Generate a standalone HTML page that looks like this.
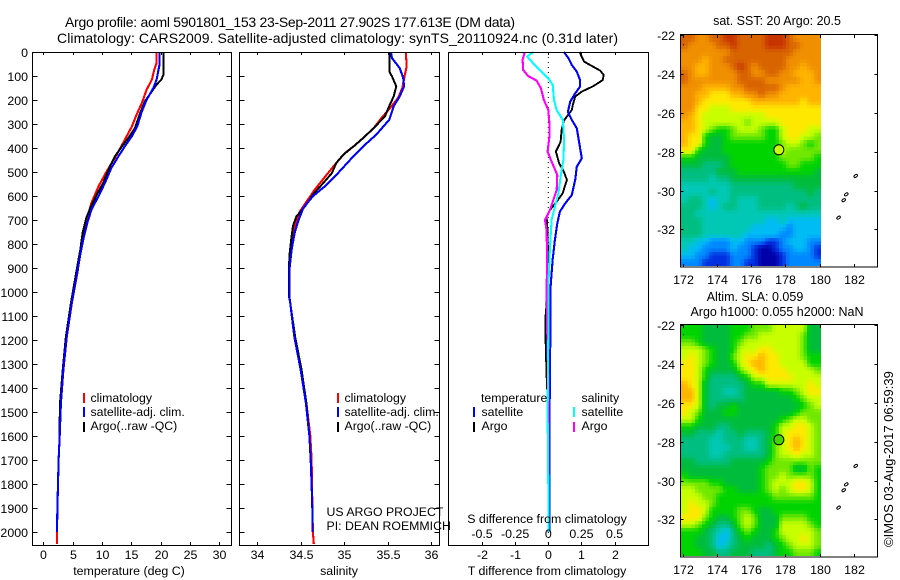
<!DOCTYPE html>
<html lang="en">
<head>
<meta charset="utf-8">
<title>Argo profile 5901801_153</title>
<style>
html,body{margin:0;padding:0;background:#fff;}
svg{display:block;}
text{font-family:"Liberation Sans",sans-serif;fill:#000;}
.t{font-size:14px;}
.m{font-size:12.4px;}
.s{font-size:12.3px;}
.n{font-size:12.5px;}
</style>
</head>
<body>
<svg id="chart" xmlns="http://www.w3.org/2000/svg" width="900" height="580" viewBox="0 0 900 580">
<rect x="0" y="0" width="900" height="580" fill="#fff"/>
<text class="t" x="65" y="27" textLength="450">Argo profile: aoml 5901801_153 23-Sep-2011 27.902S 177.613E (DM data)</text>
<text class="t" x="57" y="43" textLength="561">Climatology: CARS2009. Satellite-adjusted climatology: synTS_20110924.nc (0.31d later)</text>
<g id="maps"></g>
<g id="profiles"></g>
<g id="axes"></g>
<text class="m" x="129" y="575" text-anchor="middle">temperature (deg C)</text>
<text class="m" x="339" y="575" text-anchor="middle">salinity</text>
<text class="m" x="547" y="575" text-anchor="middle">T difference from climatology</text>
<text class="m" x="547" y="523" text-anchor="middle">S difference from climatology</text>
<rect x="83" y="393" width="2" height="10" fill="#f00"/>
<rect x="83" y="407" width="2" height="10" fill="#00f"/>
<rect x="83" y="422" width="2" height="10" fill="#000"/>
<text class="s" x="90.500" y="402">climatology</text>
<text class="s" x="90.500" y="416">satellite-adj. clim.</text>
<text class="s" x="90.500" y="430">Argo(..raw -QC)</text>
<rect x="337" y="393" width="2" height="10" fill="#f00"/>
<rect x="337" y="407" width="2" height="10" fill="#00f"/>
<rect x="337" y="422" width="2" height="10" fill="#000"/>
<text class="s" x="344.500" y="402">climatology</text>
<text class="s" x="344.500" y="416">satellite-adj. clim.</text>
<text class="s" x="344.500" y="430">Argo(..raw -QC)</text>
<text class="s" x="326.500" y="516">US ARGO PROJECT</text>
<text class="s" x="326.500" y="530">PI: DEAN ROEMMICH</text>
<text class="s" x="481" y="402">temperature</text>
<rect x="473" y="407" width="2" height="10" fill="#00f"/>
<rect x="473" y="422" width="2" height="10" fill="#000"/>
<text class="s" x="481.500" y="416">satellite</text>
<text class="s" x="481.500" y="430">Argo</text>
<text class="s" x="581.500" y="402">salinity</text>
<rect x="573" y="407" width="2" height="10" fill="#0ff"/>
<rect x="573" y="422" width="2" height="10" fill="#f0f"/>
<text class="s" x="581.500" y="416">satellite</text>
<text class="s" x="581.500" y="430">Argo</text>
<text class="n" x="777" y="25" text-anchor="middle">sat. SST: 20 Argo: 20.5</text>
<text class="n" x="755" y="301" text-anchor="middle">Altim. SLA: 0.059</text>
<text class="n" x="777" y="316" text-anchor="middle">Argo h1000: 0.055 h2000: NaN</text>
<text class="n" style="font-size:13px" transform="translate(893,547) rotate(-90)">©IMOS 03-Aug-2017 06:59:39</text>
</svg>
<script>
// ---------- profile data ----------
const tempClimDepth = [0,46,74,115,157,212,261,310,365,428,497,560,629,699,803,858,908,1047,1186,1325,1463,1600,1700,1800,1900,2000,2050];
const tempClimVal = [19.3,19.3,18.9,18.5,17.6,16.8,15.9,15.1,13.9,12.5,10.8,9.4,8.2,7.4,6.5,6.1,5.9,4.85,4,3.43,3,2.8,2.6,2.5,2.4,2.33,2.3];
const tempArgoDepth = [0,94,115,136,164,205,254,317,358,393,435,490,546,594,650,692,754,824,893,962,1047,1186,1325,1463,1600];
const tempArgoVal = [20.5,20.5,20.1,19.3,18.5,17.3,16.5,15.6,14.5,13.4,12.2,11.1,10.2,9.1,8,7.3,6.7,6.3,5.8,5.3,4.7,3.85,3.3,2.85,2.75];
const tempSatDepth = [0,53,115,150,199,247,310,351,393,435,483,546,601,657,712,782,851,908,1047,1186,1325,1463,1600,1700,1800,1900,2000];
const tempSatVal = [19.8,19.8,19.3,18.75,17.6,16.8,16,15.1,13.9,12.8,11.6,10.5,9.4,8.2,7.5,6.8,6.25,5.86,4.83,3.98,3.41,3,2.8,2.6,2.5,2.4,2.33];

const salClimDepth = [0,60,94,150,192,233,275,317,358,393,421,462,511,574,622,664,699,754,824,908,1019,1047,1186,1325,1463,1600,1700,1800,1900,2000,2050];
const salClimVal = [35.71,35.72,35.7,35.67,35.62,35.53,35.43,35.34,35.22,35.11,35.01,34.91,34.8,34.66,34.57,34.49,34.45,34.41,34.38,34.37,34.37,34.38,34.43,34.505,34.565,34.61,34.625,34.63,34.635,34.64,34.65];
const salArgoDepth = [0,81,101,143,185,233,268,317,358,393,428,462,504,546,594,643,685,726,782,850,908,1019,1047,1186,1325,1463,1600];
const salArgoVal = [35.52,35.52,35.55,35.6,35.57,35.51,35.47,35.34,35.22,35.11,34.99,34.91,34.86,34.76,34.64,34.55,34.45,34.41,34.39,34.37,34.365,34.365,34.38,34.435,34.51,34.565,34.6];
const salSatDepth = [0,25,67,108,143,185,226,282,344,393,449,504,553,601,650,706,754,824,908,1019,1047,1186,1325,1463,1600,1700,1800,1900,2000];
const salSatVal = [35.54,35.55,35.64,35.68,35.69,35.64,35.57,35.52,35.37,35.22,35.07,34.93,34.8,34.64,34.53,34.47,34.43,34.395,34.37,34.37,34.38,34.426,34.5,34.56,34.6,34.615,34.625,34.633,34.637];

const diffArgoTDepth = [0,40,58,78,96,117,142,165,186,221,242,286,325,374,415,464,499,533,589,624,658,686,728,880,964,1050,1100,1200,1350,1500,2000];
const diffArgoTVal = [0.94,1.08,1.31,1.57,1.67,1.64,1.36,1.01,0.81,0.74,0.71,0.47,0.4,0.37,0.23,0.33,0.47,0.56,0.43,0.25,0.05,-0.05,-0.03,0,-0.03,-0.05,-0.08,-0.08,-0.05,0,0];
const diffSatTDepth = [0,26,54,82,117,144,172,207,249,283,318,360,401,443,478,533,596,631,665,714,783,867,978,1100,1300,1500,1700,2000];
const diffSatTVal = [0.47,0.61,0.71,0.86,0.96,0.96,0.81,0.66,0.59,0.71,0.86,0.91,0.96,1.01,0.86,0.81,0.71,0.51,0.35,0.27,0.2,0.13,0.07,0.07,0.05,0.04,0.03,0.03];
const diffArgoSDepth = [0,33,75,100,119,151,200,242,297,353,415,457,512,575,624,658,700,742,880,978,1100,1250,1400,1500,2000];
const diffArgoSVal = [-0.177,-0.194,-0.189,-0.152,-0.088,-0.056,-0.033,0,0.008,0.008,-0.005,0.025,0.068,0.063,0.033,0.013,-0.025,-0.013,-0.008,-0.013,-0.01,-0.005,0.002,0.003,0];
const diffSatSDepth = [0,19,47,75,110,137,200,242,283,367,450,519,589,644,700,811,978,1200,1500,1800,2000];
const diffSatSVal = [-0.114,-0.159,-0.114,-0.063,0,0.033,0.043,0.063,0.109,0.119,0.114,0.093,0.076,0.05,0.025,0.013,0,0,-0.005,0,0];

// ---------- tick labels ----------
const depthTicks = [0,100,200,300,400,500,600,700,800,900,1000,1100,1200,1300,1400,1500,1600,1700,1800,1900,2000];
const tempTicks = [0,5,10,15,20,25,30];
const salTicks = [34,34.5,35,35.5,36];
const diffTTicks = [-2,-1,0,1,2];
const diffSTicks = [-0.5,-0.25,0,0.25,0.5];
const lonTicks = [172,174,176,178,180,182];
const latTicks = [-22,-24,-26,-28,-30,-32];

// ---------- map data (colour levels, 0 = deep blue ... 14 = red-brown) ----------
const sstGrid = [
[13,13,12,12,13,13,14,14,13,13,13,13,14,14,14,13,12,12,12,12],
[13,12,12,12,12,13,13,14,13,13,13,13,14,14,14,13,13,12,12,12],
[12,12,12,12,12,12,12,13,13,13,13,13,13,13,13,13,12,12,12,12],
[12,12,12,11,12,12,13,13,13,13,13,13,13,13,13,12,12,12,12,12],
[12,12,11,11,12,12,12,13,14,13,12,13,13,13,13,12,12,11,12,12],
[13,12,11,11,12,12,12,12,13,13,12,12,13,13,12,12,11,11,11,12],
[13,12,12,12,12,12,12,12,13,13,13,13,12,12,12,12,12,11,11,12],
[12,12,12,11,11,11,11,12,12,13,13,13,13,13,12,11,11,11,11,11],
[12,12,11,11,10,10,10,11,11,12,12,13,12,12,11,11,11,11,11,11],
[12,12,11,10,10,10,10,10,10,10,11,11,11,11,11,11,11,10,11,11],
[12,12,10,10,9,9,9,10,10,10,10,10,10,10,10,10,10,10,10,10],
[12,11,10,9,9,9,9,9,9,9,9,9,10,10,10,10,10,10,10,10],
[11,11,10,9,9,9,9,9,9,8,9,9,9,9,10,10,10,10,10,10],
[11,11,10,9,8,7,7,8,9,9,9,8,7,7,9,10,10,10,9,9],
[11,10,10,7,6,6,7,8,8,8,8,8,7,7,9,10,10,9,9,8],
[11,10,10,7,6,6,7,7,7,7,7,7,7,7,8,9,9,8,7,8],
[10,10,7,6,6,6,7,7,7,7,7,7,7,7,9,8,8,8,8,8],
[7,7,6,6,6,6,6,7,7,7,7,7,7,7,8,8,8,8,8,7],
[6,6,6,5,5,5,6,7,7,7,7,7,7,7,7,8,8,7,7,7],
[5,5,5,5,5,6,6,6,7,7,7,7,7,7,7,7,7,7,7,6],
[5,5,5,5,4,5,5,6,6,6,6,6,6,6,6,6,6,6,6,6],
[4,4,4,4,4,4,4,5,5,5,5,5,5,5,5,5,6,6,6,6],
[4,4,4,4,5,4,4,5,5,5,5,5,5,5,5,5,5,5,6,5],
[4,5,5,4,3,4,4,5,4,4,4,5,5,5,5,5,5,5,5,5],
[5,5,5,4,3,4,5,5,4,4,4,5,5,5,5,4,5,6,5,5],
[5,5,4,4,4,4,4,4,4,4,4,4,4,4,4,4,4,4,4,4],
[5,5,5,4,4,4,4,4,4,4,4,4,3,3,4,3,3,3,3,3],
[5,5,5,4,4,4,4,4,4,4,3,3,3,3,3,2,3,3,3,3],
[5,5,5,4,4,4,4,4,4,3,3,3,3,3,2,2,3,3,3,3],
[4,4,3,3,2,2,2,3,3,2,2,2,1,1,2,3,3,3,2,2],
[4,3,3,2,2,2,2,3,2,2,1,0,0,1,2,2,3,3,2,1],
[3,3,2,2,1,1,1,2,2,2,1,0,0,0,1,2,2,2,2,1],
[2,2,2,1,1,1,1,2,2,1,1,0,0,0,1,2,2,2,2,2]
];
const slaGrid = [
[7,7,7,6,6,6,6,7,7,7,8,8,8,9,9,9,9,9,6,6],
[7,7,7,6,6,6,6,7,7,8,8,9,9,9,9,9,9,8,6,6],
[8,8,7,6,6,6,6,7,8,9,9,9,9,9,9,9,9,8,6,6],
[9,9,9,8,7,6,6,7,9,9,9,10,10,9,9,9,9,8,6,6],
[9,10,9,8,7,6,6,8,9,10,10,11,10,10,9,9,9,8,7,7],
[10,10,9,8,7,6,6,7,9,10,11,11,10,10,9,9,9,9,7,7],
[10,10,9,7,6,6,6,6,8,9,10,11,10,10,10,9,9,9,9,8],
[10,10,9,7,5,5,5,5,6,7,9,9,10,10,10,10,9,9,9,9],
[11,10,9,6,5,5,5,5,5,6,7,7,9,9,9,9,9,9,10,9],
[11,11,9,6,5,5,4,4,5,6,6,6,6,6,7,7,8,9,10,10],
[11,11,9,6,5,5,5,5,5,6,6,6,6,6,6,6,7,8,9,9],
[10,10,9,6,5,6,6,7,6,6,6,6,6,6,6,6,6,7,8,9],
[10,9,8,6,6,6,7,7,6,6,6,6,6,6,6,6,7,8,8,8],
[9,9,7,6,6,6,6,6,6,6,6,6,6,6,7,8,9,9,8,8],
[7,7,6,6,6,5,5,6,6,6,6,6,6,7,9,9,10,10,9,8],
[6,6,5,5,5,4,5,5,6,5,5,5,6,7,9,10,10,10,9,8],
[5,5,5,5,4,4,5,5,5,4,4,5,6,8,9,10,11,10,9,8],
[5,5,5,5,4,4,4,5,5,4,4,5,6,8,9,10,11,10,9,8],
[5,5,5,5,4,4,5,5,5,5,5,5,6,8,9,9,10,9,9,8],
[6,6,5,5,5,5,5,6,6,6,6,6,7,8,8,8,8,8,8,8],
[6,6,6,6,6,6,6,6,6,6,6,7,8,8,8,8,6,6,8,7],
[7,6,6,6,6,6,6,6,6,6,6,7,8,8,9,8,8,8,8,7],
[8,8,8,8,7,7,6,6,6,6,6,7,8,9,9,9,10,10,9,7],
[9,9,8,8,8,8,7,7,6,6,6,7,8,9,8,9,10,10,9,7],
[9,9,9,8,8,7,7,7,7,7,7,7,7,8,8,8,8,8,8,7],
[9,10,9,9,8,7,7,7,7,7,7,7,7,7,7,7,7,7,7,7],
[9,10,10,9,7,7,7,7,8,8,7,6,6,7,7,7,7,7,7,7],
[10,10,10,8,7,6,6,7,8,9,8,6,6,6,8,8,8,8,7,7],
[9,9,8,7,6,5,5,6,8,9,8,6,6,6,9,9,9,9,8,7],
[7,7,7,6,5,4,3,5,7,8,7,6,6,7,9,9,9,9,9,8],
[7,7,6,6,5,3,3,5,6,7,6,6,6,7,8,9,9,10,9,8],
[7,7,6,6,5,3,4,5,6,6,6,6,5,6,7,8,9,9,9,8],
[7,7,7,6,6,5,5,6,6,6,5,5,5,6,7,7,8,8,8,7]
];
const argoLon = [177.613];
const argoLat = [-27.902];
const islandLon = [182.1,181.55,181.4,181.1];
const islandLat = [-29.25,-30.2,-30.5,-31.4];

// ---------- scales ----------
const PANEL_TOP = 52, PANEL_BOTTOM = 545;
function yDepth(d){ return PANEL_TOP + d * 0.24; }
function xTemp(v){ return 43.3 + v * 5.87; }
function xSal(v){ return 257.3 + (v - 34) * 86.85; }
function xDiffT(v){ return 548.3 + v * 33.15; }
function xDiffS(v){ return 548.3 + v * 132.6; }
function levelColor(l){
  const palette = [[0,0,168],[0,48,224],[0,136,255],[0,188,244],[0,200,180],[0,190,128],[0,188,60],[0,212,0],[112,232,0],[200,255,0],[255,232,0],[255,180,0],[240,144,0],[216,100,0],[200,52,0]];
  const v = Math.max(0, Math.min(palette.length - 1, l));
  const i = Math.min(palette.length - 2, Math.floor(v));
  const f = v - i;
  const c = [0,1,2].map(k => Math.round(palette[i][k] + (palette[i + 1][k] - palette[i][k]) * f));
  return 'rgb(' + c.join(',') + ')';
}
const NS = 'http://www.w3.org/2000/svg';
function make(tag, attrs, parent, txt){
  const el = document.createElementNS(NS, tag);
  for (const k in attrs) el.setAttribute(k, attrs[k]);
  if (txt !== undefined) el.textContent = txt;
  parent.appendChild(el);
  return el;
}
const profiles = document.getElementById('profiles');
const axes = document.getElementById('axes');
const maps = document.getElementById('maps');

// ---------- profile lines ----------
function drawLine(depths, vals, xFn, color, width, name){
  const pts = depths.map((d, i) => xFn(vals[i]).toFixed(1) + ',' + yDepth(d).toFixed(1)).join(' ');
  const el = make('polyline', {points: pts, fill: 'none', stroke: color, 'stroke-width': width, 'stroke-linejoin': 'round', 'shape-rendering': 'crispEdges'}, profiles);
  
  
}
// zero reference in the difference panel
const zeroLine = make('line', {x1: xDiffT(0), x2: xDiffT(0), y1: PANEL_TOP, y2: PANEL_BOTTOM, stroke: '#000', 'stroke-width': 1, 'stroke-dasharray': '1 4'}, profiles);



drawLine(tempClimDepth, tempClimVal, xTemp, '#f00', 2.1, 'temperature-climatology-line');
drawLine(tempArgoDepth, tempArgoVal, xTemp, '#000', 2, 'temperature-argo-line');
drawLine(tempSatDepth, tempSatVal, xTemp, '#00f', 2.1, 'temperature-satellite-line');
drawLine(salClimDepth, salClimVal, xSal, '#f00', 2.1, 'salinity-climatology-line');
drawLine(salArgoDepth, salArgoVal, xSal, '#000', 2, 'salinity-argo-line');
drawLine(salSatDepth, salSatVal, xSal, '#00f', 2.1, 'salinity-satellite-line');
drawLine(diffArgoTDepth, diffArgoTVal, xDiffT, '#000', 1.9, 'diff-t-argo-line');
drawLine(diffSatTDepth, diffSatTVal, xDiffT, '#00f', 2.1, 'diff-t-satellite-line');
drawLine(diffArgoSDepth, diffArgoSVal, xDiffS, '#f0f', 2.1, 'diff-s-argo-line');
drawLine(diffSatSDepth, diffSatSVal, xDiffS, '#0ff', 2.1, 'diff-s-satellite-line');

// ---------- panel frames and ticks ----------
function drawFrame(x0, x1, y0, y1, name){
  const el = make('rect', {x: x0, y: y0, width: x1 - x0, height: y1 - y0, fill: 'none', stroke: '#000', 'stroke-width': 1}, axes);
  
  
}
function drawTick(x1, y1, x2, y2){
  const el = make('line', {x1: x1, y1: y1, x2: x2, y2: y2, stroke: '#000', 'stroke-width': 1}, axes);
  
  
}
function drawLabel(x, y, anchor, str){
  const el = make('text', {x: x, y: y, 'text-anchor': anchor, class: 'm'}, axes, str);
  
  
}
const panelT = {x0: 32.5, x1: 231.5}, panelS = {x0: 239.5, x1: 439.5}, panelD = {x0: 448.5, x1: 648.5};
drawFrame(panelT.x0, panelT.x1, PANEL_TOP + 0.5, PANEL_BOTTOM + 0.5, 'temperature-panel-frame');
drawFrame(panelS.x0, panelS.x1, PANEL_TOP + 0.5, PANEL_BOTTOM + 0.5, 'salinity-panel-frame');
drawFrame(panelD.x0, panelD.x1, PANEL_TOP + 0.5, PANEL_BOTTOM + 0.5, 'difference-panel-frame');

depthTicks.forEach(d => {
  const y = Math.round(yDepth(d)) + 0.5;
  [panelT, panelS].forEach(p => {
    drawTick(p.x0, y, p.x0 + 5, y);
    drawTick(p.x1, y, p.x1 - 5, y);
  });
  drawLabel(28, y + 4.5, 'end', String(d));
});
function xTicks(vals, fn, labels, labelY){
  vals.forEach((v, i) => {
    const x = Math.round(fn(v)) + 0.5;
    drawTick(x, PANEL_TOP, x, PANEL_TOP + 3);
    drawTick(x, PANEL_BOTTOM, x, PANEL_BOTTOM - 3);
    if (labels) drawLabel(x, labelY, 'middle', labels[i]);
  });
}
xTicks(tempTicks, xTemp, tempTicks.map(String), 559);
xTicks(salTicks, xSal, salTicks.map(String), 559);
xTicks(diffTTicks, xDiffT, diffTTicks.map(String), 559);
diffSTicks.forEach(v => {
  drawLabel(xDiffS(v), 538, 'middle', String(v));
});

// ---------- maps ----------
function sampleGrid(grid, r, c){
  const r0 = Math.max(0, Math.min(grid.length - 1, Math.floor(r)));
  const r1 = Math.min(grid.length - 1, r0 + 1);
  const c0 = Math.max(0, Math.min(grid[0].length - 1, Math.floor(c)));
  const c1 = Math.min(grid[0].length - 1, c0 + 1);
  const fr = Math.max(0, Math.min(1, r - r0));
  const fc = Math.max(0, Math.min(1, c - c0));
  return (grid[r0][c0] * (1 - fc) + grid[r0][c1] * fc) * (1 - fr) + (grid[r1][c0] * (1 - fc) + grid[r1][c1] * fc) * fr;
}
function drawMap(grid, cfg){
  const g = make('g', {}, maps);
  
  
  const rows = grid.length, cols = grid[0].length;
  const cellW = 7, cellH = (cfg.fieldBottom - cfg.top) / rows;
  const sub = 2;
  for (let r = 0; r < rows * sub; r++) {
    for (let c = 0; c < cols * sub; c++) {
      const level = sampleGrid(grid, r / sub - 0.25, c / sub - 0.25);
      const cell = make('rect', {x: 681 + c * cellW / sub, y: (cfg.top + r * cellH / sub).toFixed(2), width: cellW / sub + 0.05, height: (cellH / sub + 0.05).toFixed(2), fill: levelColor(level), 'shape-rendering': 'crispEdges'}, g);
      
      
    }
  }
  const lonX = lon => 682.7 + (lon - 172) * 17.13;
  const latY = lat => cfg.lat22 + (-22 - lat) * 19.4;

  const speck = make('rect', {x: 683, y: cfg.lat22 + 9, width: 1, height: 1, fill: '#000'}, g);
  
  

  islandLon.forEach((lon, i) => {
    const isl = make('ellipse', {cx: lonX(lon), cy: latY(islandLat[i]), rx: 2, ry: 1.2, fill: 'none', stroke: '#000', 'stroke-width': 1, transform: 'rotate(-35 ' + lonX(lon) + ' ' + latY(islandLat[i]) + ')'}, g);
    
    
  });

  const marker = make('circle', {cx: lonX(argoLon[0]), cy: latY(argoLat[0]), r: 5, fill: cfg.markerFill, stroke: '#000', 'stroke-width': 1}, g);
  
  

  const frame = make('rect', {x: 680.5, y: cfg.top - 0.5, width: 197, height: cfg.bottom - cfg.top + 0.5, fill: 'none', stroke: '#000', 'stroke-width': 1}, g);
  
  

  lonTicks.forEach(lon => {
    const x = Math.round(lonX(lon)) + 0.5;
    drawTick(x, cfg.top, x, cfg.top + 3);
    drawTick(x, cfg.bottom, x, cfg.bottom - 3);
    drawLabel(x, cfg.bottom + 17, 'middle', String(lon));
  });
  latTicks.forEach(lat => {
    const y = Math.round(latY(lat)) + 0.5;
    drawTick(680.5, y, 683.5, y);
    drawTick(877.5, y, 874.5, y);
    drawLabel(675, y + 4.5, 'end', String(lat));
  });
}
drawMap(sstGrid, {name: 'sst-map', top: 35, fieldBottom: 266, bottom: 267, lat22: 35.3, markerFill: '#c8ff00'});
drawMap(slaGrid, {name: 'sla-map', top: 325, fieldBottom: 556, bottom: 557, lat22: 325.3, markerFill: '#44d400'});
</script>
</body>
</html>
